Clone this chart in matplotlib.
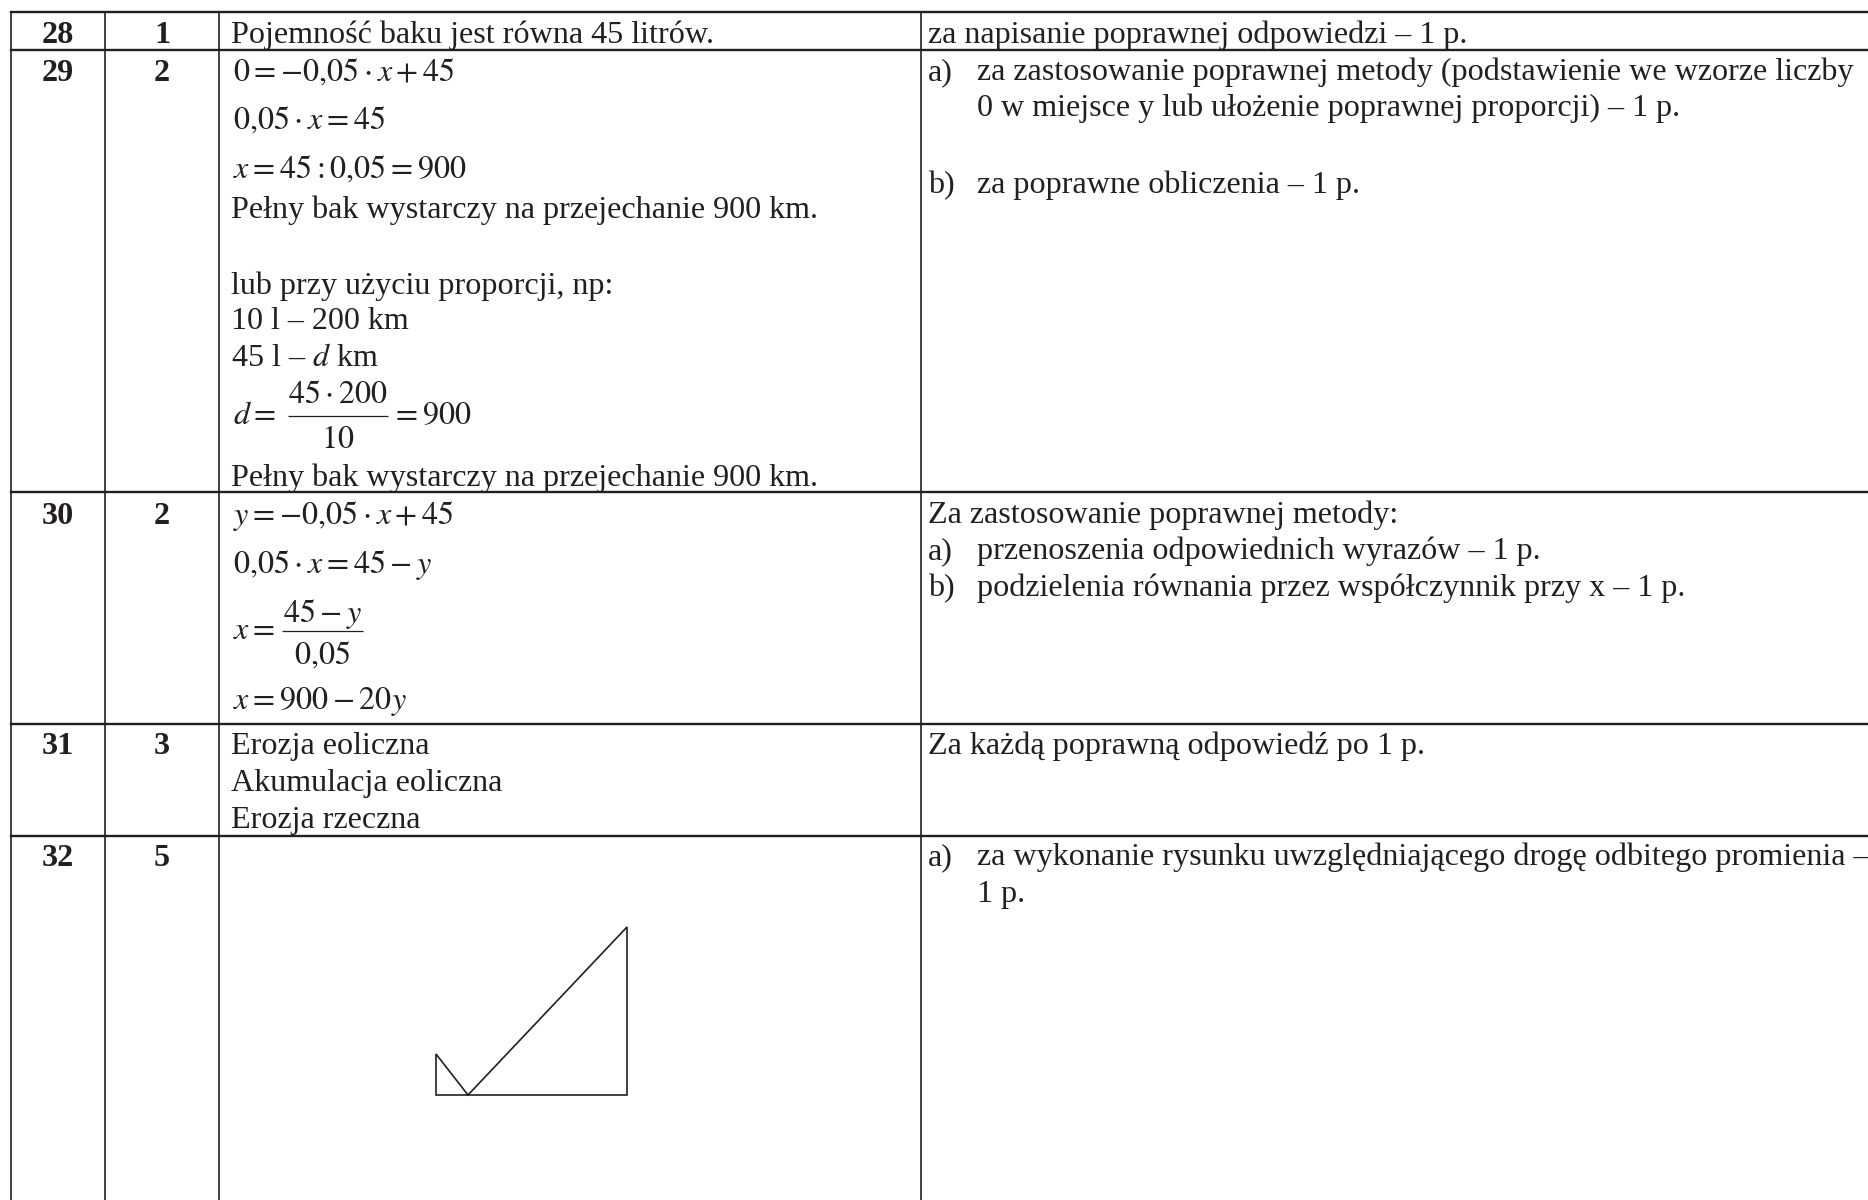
import matplotlib
matplotlib.use("Agg")
import matplotlib.pyplot as plt

plt.rcParams['font.family'] = ['Liberation Serif', 'DejaVu Serif']
plt.rcParams['mathtext.fontset'] = 'stix'

W, H = 1868, 1200
INK = '#231f20'

# ---- table content ----
question_numbers = ['28', '29', '30', '31', '32']
point_values = ['1', '2', '2', '3', '5']
answers = [
    'Pojemność baku jest równa 45 litrów.',
    r'$0=-0{,}05\cdot x+45$',
    r'$0{,}05\cdot x=45$',
    r'$x=45:0{,}05=900$',
    'Pełny bak wystarczy na przejechanie 900 km.',
    'lub przy użyciu proporcji, np:',
    '10 l – 200 km',
    r'45 l – $d$ km',
    r'$d=$',
    r'$=900$',
    'Pełny bak wystarczy na przejechanie 900 km.',
    r'$y=-0{,}05\cdot x+45$',
    r'$0{,}05\cdot x=45-y$',
    r'$x=$',
    r'$x=900-20y$',
    'Erozja eoliczna',
    'Akumulacja eoliczna',
    'Erozja rzeczna',
]
fraction_tops = [r'$45\cdot 200$', r'$45-y$']
fraction_bottoms = [r'$10$', r'$0{,}05$']
criteria = [
    'za napisanie poprawnej odpowiedzi – 1 p.',
    'a)',
    'za zastosowanie poprawnej metody (podstawienie we wzorze liczby',
    '0 w miejsce y lub ułożenie poprawnej proporcji) – 1 p.',
    'b)',
    'za poprawne obliczenia – 1 p.',
    'Za zastosowanie poprawnej metody:',
    'a)',
    'przenoszenia odpowiednich wyrazów – 1 p.',
    'b)',
    'podzielenia równania przez współczynnik przy x – 1 p.',
    'Za każdą poprawną odpowiedź po 1 p.',
    'a)',
    'za wykonanie rysunku uwzględniającego drogę odbitego promienia –',
    '1 p.',
]

# ---- layout (pixels) ----
col_x = [11, 105, 219, 921]
row_y = [12, 50, 492, 724, 836]
row_base = [43, 81, 524, 754, 866]
col_num_x, col_pts_x = 58, 162
answer_x = [231, 233, 233, 233, 231, 231, 231, 231, 233, 391, 231, 233, 233, 233, 233, 231, 231, 231]
answer_y = [43, 81, 129, 178, 218, 294, 329, 366, 424, 424, 486, 524, 573, 639, 709, 754, 791, 828]
frac_x = [(288, 388), (282, 363)]
frac_line_y = [416, 631]
frac_top_y = [403, 622]
frac_bottom_y = [448, 664]
crit_x = [928, 928, 977, 977, 928, 977, 928, 928, 977, 928, 977, 928, 928, 977, 977]
crit_y = [43, 80, 80, 116, 193, 193, 523, 559, 559, 596, 596, 754, 865, 865, 902]

fig = plt.figure(figsize=(W / 100, H / 100), dpi=100, facecolor='white')
ax = fig.add_axes([0, 0, 1, 1])
ax.set_xlim(0, W)
ax.set_ylim(H, 0)
ax.axis('off')

FS = 23.1
for x in col_x:
    ax.plot([x, x], [row_y[0], H], color=INK, lw=1.2, solid_capstyle='butt')
for y in row_y:
    ax.plot([col_x[0], W], [y, y], color=INK, lw=1.7)

for q, p, y in zip(question_numbers, point_values, row_base):
    ax.text(col_num_x, y, q, ha='center', va='baseline', fontsize=FS, fontweight='bold', color=INK)
    ax.text(col_pts_x, y, p, ha='center', va='baseline', fontsize=FS, fontweight='bold', color=INK)

for t, x, y in zip(answers, answer_x, answer_y):
    ax.text(x, y, t, ha='left', va='baseline', fontsize=FS, color=INK)
for t, x, y in zip(criteria, crit_x, crit_y):
    ax.text(x, y, t, ha='left', va='baseline', fontsize=FS, color=INK)

for top, bottom, (x0, x1), yl, yt, yb in zip(fraction_tops, fraction_bottoms, frac_x,
                                              frac_line_y, frac_top_y, frac_bottom_y):
    ax.plot([x0, x1], [yl, yl], color=INK, lw=0.9, solid_capstyle='butt')
    ax.text((x0 + x1) / 2, yt, top, ha='center', va='baseline', fontsize=FS, color=INK)
    ax.text((x0 + x1) / 2, yb, bottom, ha='center', va='baseline', fontsize=FS, color=INK)

# sketch in question 32
sketch_x = [468, 436, 436, 627, 627, 468]
sketch_y = [1095, 1054, 1095, 1095, 927, 1095]
ax.plot(sketch_x, sketch_y, color=INK, lw=1.2, solid_joinstyle='miter')

fig.savefig('out.png', dpi=100, facecolor='white')
